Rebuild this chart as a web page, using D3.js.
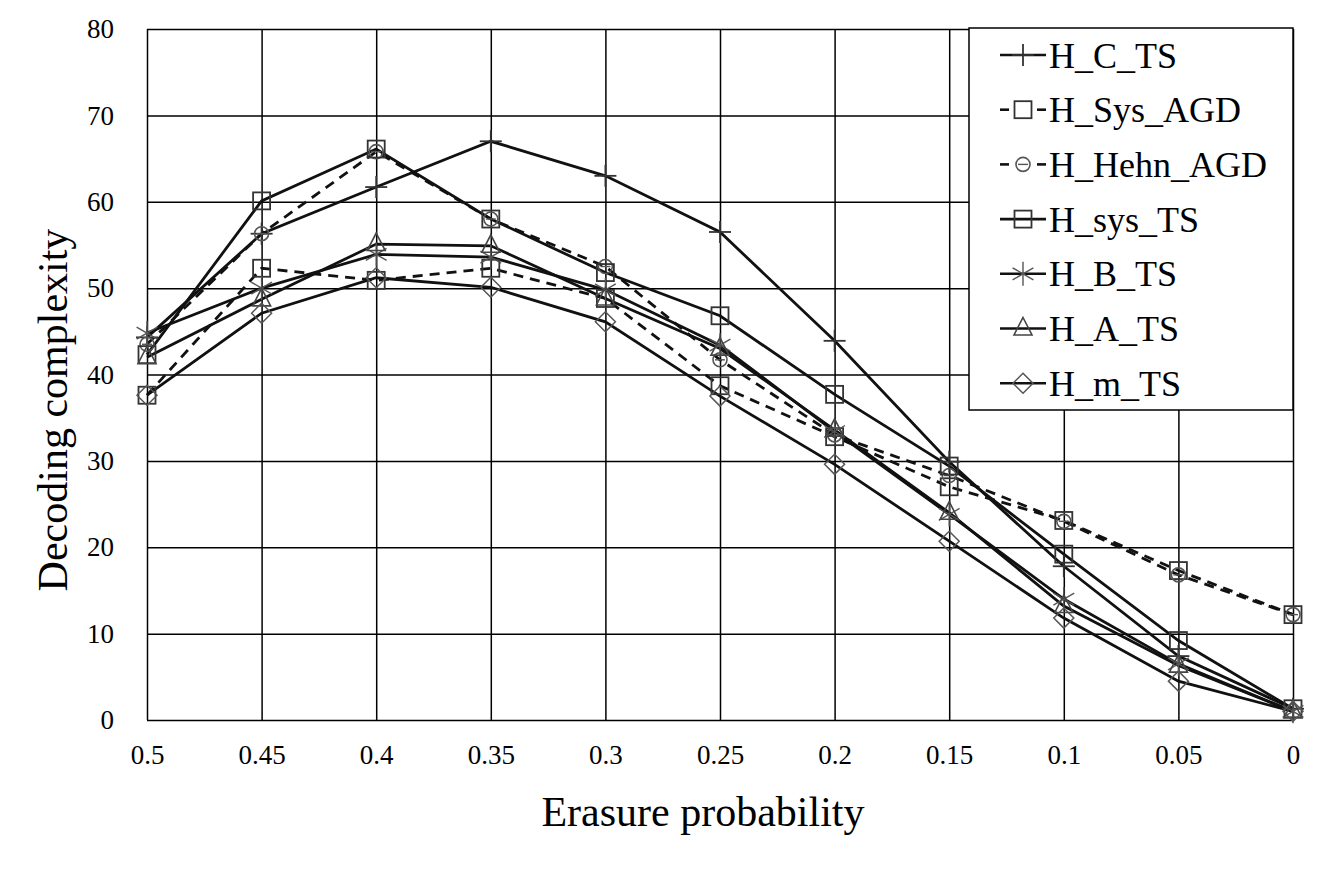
<!DOCTYPE html>
<html>
<head>
<meta charset="utf-8">
<script src="https://cdn.jsdelivr.net/npm/d3@7"></script>
<style>
  body { margin: 0; background: #fff; }
  text { font-family: "Liberation Serif", "Times New Roman", serif; fill: #000; }
</style>
</head>
<body>
<div id="chart"></div>
<script>
// x categories (erasure probability, plotted left to right descending)
const probs = [0.5, 0.45, 0.4, 0.35, 0.3, 0.25, 0.2, 0.15, 0.1, 0.05, 0];
const yTicks = [0, 10, 20, 30, 40, 50, 60, 70, 80];

// series values
const hCTS     = [44.3, 56.3, 61.7, 67.0, 63.0, 56.5, 43.9, 29.9, 17.8, 7.4, 1.3];
const hSysAGD  = [37.6, 52.3, 50.9, 52.3, 48.8, 38.7, 32.8, 27.0, 23.1, 17.3, 12.2];
const hHehnAGD = [43.5, 56.3, 65.8, 58.0, 52.5, 41.7, 33.0, 28.3, 23.0, 16.8, 12.2];
const hSysTS   = [42.3, 60.1, 66.1, 58.0, 51.8, 46.8, 37.7, 29.4, 19.2, 9.2, 1.3];
const hBTS     = [44.8, 50.0, 53.9, 53.6, 49.8, 43.4, 33.4, 23.8, 14.0, 6.5, 1.0];
const hATS     = [42.0, 48.7, 55.1, 54.9, 48.8, 43.0, 33.6, 24.0, 13.2, 6.3, 1.0];
const hMTS     = [37.6, 47.1, 51.2, 50.1, 46.1, 37.5, 29.6, 20.7, 11.8, 4.5, 1.0];

const series = [
    { name: "H_C_TS",     values: hCTS,     dashed: false, marker: "plus" },
    { name: "H_Sys_AGD",  values: hSysAGD,  dashed: true,  marker: "square" },
    { name: "H_Hehn_AGD", values: hHehnAGD, dashed: true,  marker: "circle" },
    { name: "H_sys_TS",   values: hSysTS,   dashed: false, marker: "square" },
    { name: "H_B_TS",     values: hBTS,     dashed: false, marker: "asterisk" },
    { name: "H_A_TS",     values: hATS,     dashed: false, marker: "triangle" },
    { name: "H_m_TS",     values: hMTS,     dashed: false, marker: "diamond" }
];

const W = 1333, H = 870;
const margin = { top: 29, right: 40, bottom: 150, left: 147 };
const width = W - margin.left - margin.right,
      height = H - margin.top - margin.bottom;

const svg = d3.select("#chart").append("svg")
    .attr("width", W)
    .attr("height", H);

const g = svg.append("g")
    .attr("transform", `translate(${margin.left},${margin.top})`);

// scales: categorical x evenly spaced, linear y
const xScale = d3.scalePoint().domain(probs.map(String)).range([0, width]);
const yScale = d3.scaleLinear().domain([0, 80]).range([height, 0]);

// gridlines
g.append("g")
    .call(d3.axisLeft(yScale).tickValues(yTicks).tickSize(-width).tickFormat(""))
    .call(a => a.select(".domain").remove())
    .selectAll("line").attr("stroke", "#000").attr("stroke-width", 1.5);

g.append("g")
    .attr("transform", `translate(0,${height})`)
    .call(d3.axisBottom(xScale).tickSize(-height).tickFormat(""))
    .call(a => a.select(".domain").remove())
    .selectAll("line").attr("stroke", "#000").attr("stroke-width", 1.5);

// tick labels
const yAxis = g.append("g")
    .call(d3.axisLeft(yScale).tickValues(yTicks).tickSize(0).tickPadding(33))
    .attr("font-family", null)
    .attr("font-size", 27);
yAxis.select(".domain").remove();

const xAxis = g.append("g")
    .attr("transform", `translate(0,${height})`)
    .call(d3.axisBottom(xScale).tickSize(0).tickPadding(25))
    .attr("font-family", null)
    .attr("font-size", 27);
xAxis.select(".domain").remove();

// axis titles
svg.append("text")
    .attr("text-anchor", "middle")
    .attr("x", 703)
    .attr("y", 826)
    .attr("font-size", 42)
    .text("Erasure probability");

svg.append("text")
    .attr("text-anchor", "middle")
    .attr("transform", "translate(67,410) rotate(-90)")
    .attr("font-size", 42)
    .text("Decoding complexity");

// lines
const line = d3.line()
    .x((d, i) => xScale(String(probs[i])))
    .y(d => yScale(d));

series.forEach(s => {
    g.append("path")
        .datum(s.values)
        .attr("fill", "none")
        .attr("stroke", "#111")
        .attr("stroke-width", 2.8)
        .attr("stroke-dasharray", s.dashed ? "10,7" : null)
        .attr("d", line);
});

// marker drawing
function drawMarker(sel, type) {
    const stroke = "#333";
    if (type === "square") {
        sel.append("rect").attr("x", -8.5).attr("y", -8.5).attr("width", 17).attr("height", 17)
            .attr("fill", "none").attr("stroke", stroke).attr("stroke-width", 1.8);
    } else if (type === "circle") {
        sel.append("circle").attr("r", 7)
            .attr("fill", "none").attr("stroke", "#555").attr("stroke-width", 1.6);
        sel.append("line").attr("x1", -5).attr("x2", 5)
            .attr("stroke", "#555").attr("stroke-width", 1.4);
    } else if (type === "plus") {
        sel.append("line").attr("x1", -11).attr("x2", 11)
            .attr("stroke", stroke).attr("stroke-width", 1.8);
        sel.append("line").attr("y1", -11).attr("y2", 11)
            .attr("stroke", stroke).attr("stroke-width", 1.8);
    } else if (type === "asterisk") {
        [0, 60, 120].forEach(a => {
            const r = 12, t = (a + 90) * Math.PI / 180;
            sel.append("line")
                .attr("x1", -r * Math.cos(t)).attr("y1", -r * Math.sin(t))
                .attr("x2", r * Math.cos(t)).attr("y2", r * Math.sin(t))
                .attr("stroke", "#555").attr("stroke-width", 1.4);
        });
    } else if (type === "triangle") {
        sel.append("path").attr("d", "M0,-11L9,6.5L-9,6.5Z")
            .attr("fill", "none").attr("stroke", "#444").attr("stroke-width", 1.6);
    } else if (type === "diamond") {
        sel.append("path").attr("d", "M0,-10L10,0L0,10L-10,0Z")
            .attr("fill", "none").attr("stroke", "#555").attr("stroke-width", 1.5);
    }
}

series.forEach(s => {
    g.append("g").selectAll("g")
        .data(s.values)
        .join("g")
        .attr("transform", (d, i) => `translate(${xScale(String(probs[i]))},${yScale(d)})`)
        .each(function () { drawMarker(d3.select(this), s.marker); });
});

// legend
const legend = svg.append("g").attr("transform", "translate(969,28)");
legend.append("rect")
    .attr("width", 324).attr("height", 382)
    .attr("fill", "#fff").attr("stroke", "#000").attr("stroke-width", 1.5);

series.forEach((s, i) => {
    const row = legend.append("g").attr("transform", `translate(0,${27 + i * 54.7})`);
    if (s.dashed) {
        row.append("line").attr("x1", 31).attr("x2", 40).attr("stroke", "#111").attr("stroke-width", 2.6);
        row.append("line").attr("x1", 68).attr("x2", 77).attr("stroke", "#111").attr("stroke-width", 2.6);
    } else {
        row.append("line").attr("x1", 31).attr("x2", 77).attr("stroke", "#111").attr("stroke-width", 2.6);
    }
    const m = row.append("g").attr("transform", "translate(54,0)");
    drawMarker(m, s.marker);
    row.append("text")
        .attr("x", 80)
        .attr("y", 0)
        .attr("dy", "0.35em")
        .attr("font-size", 36)
        .text(s.name);
});
</script>
</body>
</html>
